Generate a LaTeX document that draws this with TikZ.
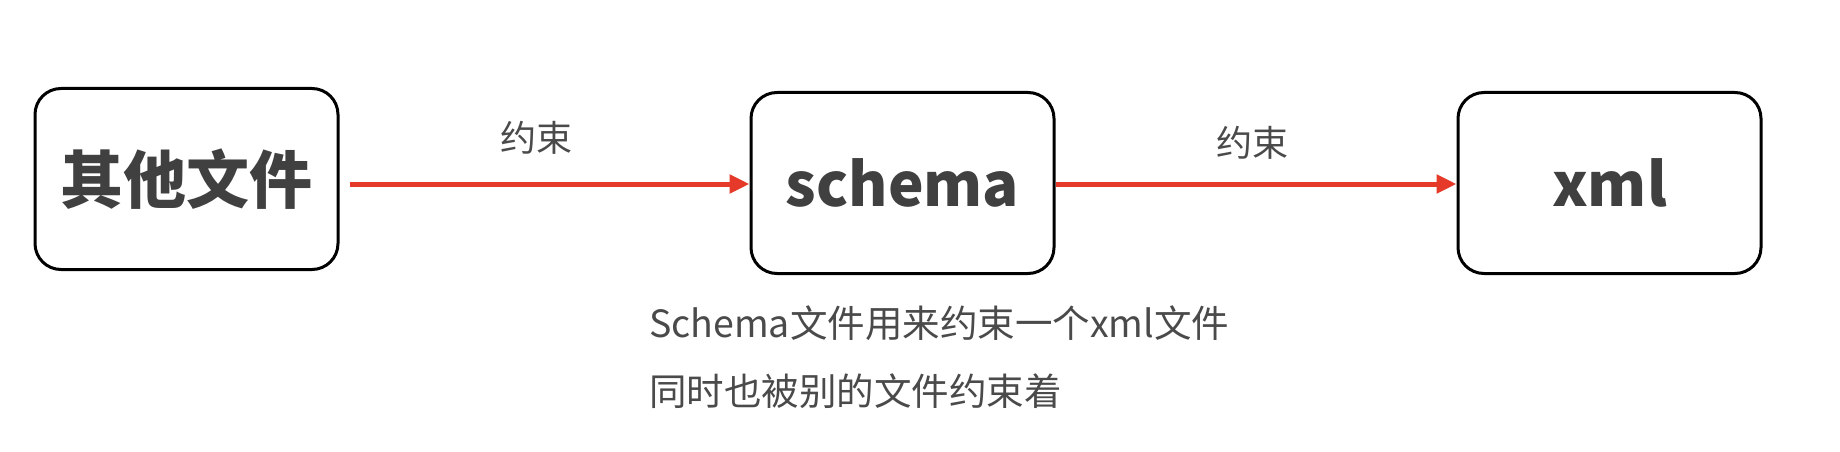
\documentclass[tikz,border=0pt]{standalone}
\usepackage{fontspec}
\setmainfont{Noto Sans CJK SC}
\newfontfamily\cjk{Noto Sans CJK SC}
\usetikzlibrary{arrows.meta}
\definecolor{arrowred}{HTML}{E53A2A}
\definecolor{boxtext}{HTML}{404040}
\definecolor{labeltext}{HTML}{4A4A4A}
\tikzset{
  boxnode/.style={draw=black, line width=3pt, rounded corners=26pt, minimum width=303pt, minimum height=181pt, inner sep=0pt, fill=white, text=boxtext, font=\cjk\bfseries\fontsize{60}{66}\selectfont},
  redarrow/.style={draw=arrowred, line width=5pt, -{Triangle[length=20pt,width=18pt]}},
  lbl/.style={text=labeltext, font=\cjk\fontsize{36}{40}\selectfont, inner sep=0pt},
  note/.style={text=labeltext, font=\cjk\fontsize{37.5}{42}\selectfont, inner sep=0pt, anchor=west}
}
\begin{document}
\begin{tikzpicture}[x=1pt,y=-1pt]
\useasboundingbox[fill=white] (0,0) rectangle (1840,452);
\node[boxnode, font=\cjk\bfseries\fontsize{63}{70}\selectfont] (other) at (186.5,179) {其他文件};
\node[boxnode] (schema) at (902.5,183) {schema};
\node[boxnode] (xml) at (1609.5,183) {xml};
\draw[redarrow] (other.east |- 0,184) ++(10pt,0) coordinate (a1s) -- (schema.west |- 0,184);
\draw[redarrow] (schema.east |- 0,184) -- (xml.west |- 0,184);
\node[lbl] (c1) at (536,138) {约束};
\node[lbl] (c2) at (1252,143) {约束};
\node[note] (n1) at (649,323) {Schema文件用来约束一个xml文件};
\node[note] (n2) at (649,391) {同时也被别的文件约束着};
\end{tikzpicture}
\end{document}
